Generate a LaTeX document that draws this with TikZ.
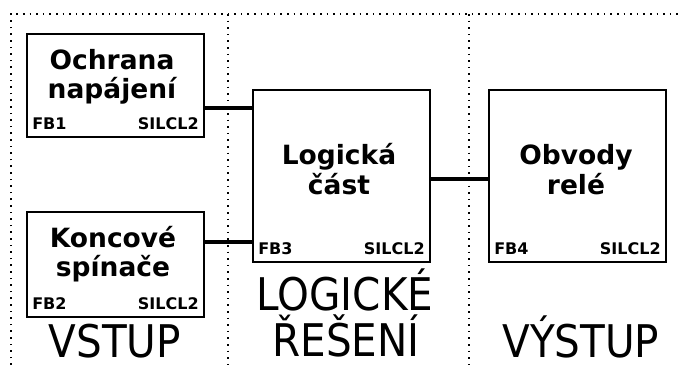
\documentclass[tikz,border=0pt]{standalone}
\usepackage{fontspec}
\setmainfont{DejaVu Sans}
\newfontfamily\bigfont{DejaVu Sans Condensed}
\begin{document}
\begin{tikzpicture}[x=1pt,y=-1pt,
  block/.style={draw=black,line width=1.8pt,minimum width=177pt,inner sep=0pt},
  conn/.style={draw=black,line width=3.2pt},
  zone/.style={draw=black,line width=1.6pt,dash pattern=on 1.6pt off 5pt},
  title/.style={font=\bfseries\fontsize{26.5}{29}\selectfont,anchor=base,inner sep=0pt},
  tag/.style={font=\bfseries\fontsize{16}{16}\selectfont,inner sep=0pt},
  big/.style={font=\bigfont\fontsize{45}{50}\selectfont,anchor=base,inner sep=0pt,text depth=0pt}]
\useasboundingbox[fill=white] (0,0) rectangle (678,365);
% zones
\draw[zone] (11,365) -- (11,14) -- (678,14);
\draw[zone] (228,14) -- (228,365);
\draw[zone] (469,14) -- (469,365);
% blocks
\node[block,minimum height=103pt] (fb1) at (115.5,85.5) {};
\node[block,minimum height=105pt] (fb2) at (115.5,264.5) {};
\node[block,minimum height=172pt] (fb3) at (341.5,176) {};
\node[block,minimum height=172pt] (fb4) at (577.5,176) {};
% titles
\node[title] (t1a) at (112,69) {Ochrana};
\node[title] (t1b) at (112,98) {napájení};
\node[title] (t2a) at (113,247) {Koncové};
\node[title] (t2b) at (113,276) {spínače};
\node[title] (t3a) at (339,164) {Logická};
\node[title] (t3b) at (339,194) {část};
\node[title] (t4a) at (576,164) {Obvody};
\node[title] (t4b) at (576,194) {relé};
% tags
\foreach \b/\n in {fb1/FB1,fb2/FB2,fb3/FB3,fb4/FB4}{
  \node[tag,anchor=base west] (\b-id) at ([xshift=6pt,yshift=8pt]\b.south west) {\n};
  \node[tag,anchor=base east] (\b-sil) at ([xshift=-6pt,yshift=8pt]\b.south east) {SILCL2};
}
% connectors
\draw[conn] ([yshift=-22.5pt]fb1.east) coordinate (c1) -- (c1 -| fb3.west);
\draw[conn] ([yshift=22.5pt]fb2.east) coordinate (c2) -- (c2 -| fb3.west);
\draw[conn] ([yshift=-3pt]fb3.east) coordinate (c3) -- (c3 -| fb4.west);
% zone labels
\node[big] (z1) at (115,357) {VSTUP};
\node[big] (z2a) at (345,310) {LOGICKÉ};
\node[big] (z2b) at (346,356) {ŘEŠENÍ};
\node[big] (z3) at (581,357) {VÝSTUP};
\end{tikzpicture}
\end{document}
